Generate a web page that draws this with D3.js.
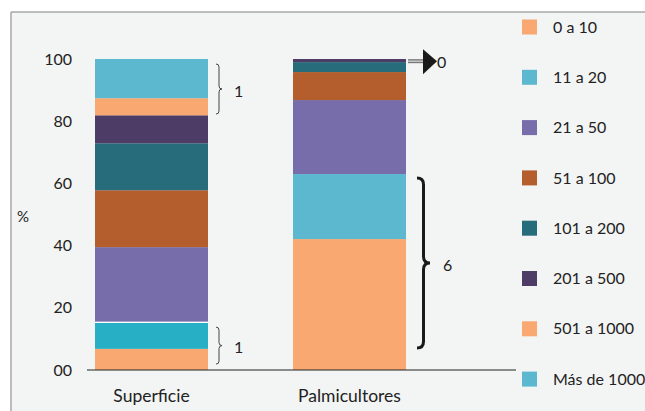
<!DOCTYPE html>
<html>
<head>
<meta charset="utf-8">
<script src="https://cdn.jsdelivr.net/npm/d3@7"></script>
<style>
  body { margin: 0; background: #fff; }
  svg { display: block; font-family: Lato, "Open Sans", sans-serif; }
</style>
</head>
<body>
<div class="chart"></div>
<script>
var categories = ["Superficie", "Palmicultores"];
var seriesNames = ["0 a 10", "11 a 20", "21 a 50", "51 a 100", "101 a 200", "201 a 500", "501 a 1000", "Más de 1000"];
var seriesColors = ["#F8A870", "#5BB8CF", "#776DAA", "#B45D2D", "#276C7B", "#4D3D66", "#F8A870", "#5BB8CF"];
// percent per size class, one array per category
var superficie = [6.8, 8.7, 24.0, 18.3, 15.1, 9.0, 5.5, 12.6];
var palmicultores = [42.1, 20.9, 23.8, 9.0, 3.2, 1.0, 0, 0];
var tickValues = [0, 20, 40, 60, 80, 100];
var tickLabels = ["00", "20", "40", "60", "80", "100"];
// annotations: braces in value units
var braces = [
  {cat: "Superficie", from: 82.3, to: 98.4, label: "1", big: false},
  {cat: "Superficie", from: 1.9, to: 13.8, label: "1", big: false},
  {cat: "Palmicultores", from: 7.1, to: 61.7, label: "6", big: true}
];

var width = 645, height = 411;

var svg = d3.select(".chart")
    .append("svg")
    .attr("width", width)
    .attr("height", height);

// panel background with top and left border
svg.append("rect")
    .attr("x", 11).attr("y", 12)
    .attr("width", width - 11).attr("height", height - 12)
    .attr("fill", "#F3F4F4");
svg.append("line").attr("x1", 11).attr("x2", width).attr("y1", 12).attr("y2", 12)
    .attr("stroke", "#A8A8A8").attr("stroke-width", 1.5);
svg.append("line").attr("x1", 11).attr("x2", 11).attr("y1", 12).attr("y2", height)
    .attr("stroke", "#A8A8A8").attr("stroke-width", 1.5);

var x = d3.scalePoint().domain(categories).range([151.5, 349.5]);
var y = d3.scaleLinear().domain([0, 100]).range([370, 59]);
var barW = 113;

var table = categories.map(function(c, i) {
  var vals = i == 0 ? superficie : palmicultores;
  var row = {cat: c};
  seriesNames.forEach(function(s, j) { row[s] = vals[j]; });
  return row;
});

var stacked = d3.stack().keys(seriesNames)(table);

stacked.forEach(function(layer, j) {
  svg.append("g").selectAll("rect")
    .data(layer)
    .join("rect")
    .attr("x", function(d) { return x(d.data.cat) - barW / 2; })
    .attr("width", barW)
    .attr("y", function(d) { return y(d[1]); })
    .attr("height", function(d) { return y(d[0]) - y(d[1]); })
    .attr("fill", function(d) {
      // the 11-20 block of Superficie is a brighter cyan in the original
      if (d.data.cat == "Superficie" && j == 1) return "#26AFC5";
      return seriesColors[j];
    });
});

// thin white gap above the bright cyan block
var sup1 = stacked[1][0];
svg.append("line")
    .attr("x1", x("Superficie") - barW / 2).attr("x2", x("Superficie") + barW / 2)
    .attr("y1", y(sup1[1]) + 0.5).attr("y2", y(sup1[1]) + 0.5)
    .attr("stroke", "#fff").attr("stroke-width", 1.2);

// baseline
svg.append("line")
    .attr("x1", 87).attr("x2", 516)
    .attr("y1", y(0)).attr("y2", y(0))
    .attr("stroke", "#222").attr("stroke-width", 1.2);

// y tick labels
svg.append("g").selectAll("text")
    .data(tickValues)
    .join("text")
    .attr("x", 72)
    .attr("y", function(d) { return y(d); })
    .attr("dy", "0.35em")
    .attr("text-anchor", "end")
    .attr("font-size", 16)
    .attr("fill", "#222")
    .text(function(d, i) { return tickLabels[i]; });

svg.append("text")
    .attr("x", 23).attr("y", 217).attr("dy", "0.35em")
    .attr("text-anchor", "middle")
    .attr("font-size", 15).attr("fill", "#222")
    .text("%");

// category labels
svg.append("g").selectAll("text")
    .data(categories)
    .join("text")
    .attr("x", function(d) { return x(d); })
    .attr("y", 396)
    .attr("dy", "0.35em")
    .attr("text-anchor", "middle")
    .attr("font-size", 17.5)
    .attr("fill", "#222")
    .text(function(d) { return d; });

// braces
function bracePath(x0, y0, y1, w) {
  var ym = (y0 + y1) / 2, q = w / 2;
  return "M" + x0 + "," + y0 +
    " Q" + (x0 + q) + "," + y0 + " " + (x0 + q) + "," + (y0 + q) +
    " L" + (x0 + q) + "," + (ym - q) +
    " Q" + (x0 + q) + "," + ym + " " + (x0 + w) + "," + ym +
    " Q" + (x0 + q) + "," + ym + " " + (x0 + q) + "," + (ym + q) +
    " L" + (x0 + q) + "," + (y1 - q) +
    " Q" + (x0 + q) + "," + y1 + " " + x0 + "," + y1;
}

braces.forEach(function(b) {
  var bx = x(b.cat) + barW / 2 + (b.big ? 11 : 8);
  var w = b.big ? 13 : 6;
  var y0 = y(b.to), y1 = y(b.from);
  svg.append("path")
    .attr("d", bracePath(bx, y0, y1, w))
    .attr("fill", "none")
    .attr("stroke", b.big ? "#1a1a1a" : "#444")
    .attr("stroke-width", b.big ? 3 : 1);
  svg.append("text")
    .attr("x", bx + w + (b.big ? 13 : 12))
    .attr("y", (y0 + y1) / 2 + 2)
    .attr("dy", "0.35em")
    .attr("font-size", 16)
    .attr("fill", "#222")
    .text(b.label);
});

// arrow pointing to the (near) zero top classes of Palmicultores
var ay = y(99.3);
var ax = x("Palmicultores") + barW / 2 + 2;
svg.append("line").attr("x1", ax).attr("x2", ax + 17).attr("y1", ay).attr("y2", ay)
    .attr("stroke", "#777").attr("stroke-width", 4);
svg.append("line").attr("x1", ax).attr("x2", ax + 17).attr("y1", ay).attr("y2", ay)
    .attr("stroke", "#ddd").attr("stroke-width", 1.2);
svg.append("path")
    .attr("d", "M" + (ax + 15) + "," + (ay - 12) + " L" + (ax + 29) + "," + ay + " L" + (ax + 15) + "," + (ay + 13) + "Z")
    .attr("fill", "#1a1a1a");
svg.append("text")
    .attr("x", ax + 29).attr("y", ay + 1).attr("dy", "0.35em")
    .attr("font-size", 16).attr("fill", "#222")
    .text("0");

// legend
var legend = svg.append("g").selectAll("g")
    .data(seriesNames)
    .join("g")
    .attr("transform", function(d, i) { return "translate(522," + (27 + i * 50.3) + ")"; });
legend.append("rect")
    .attr("x", 0).attr("y", -7.5)
    .attr("width", 15).attr("height", 15)
    .attr("fill", function(d, i) { return seriesColors[i]; });
legend.append("text")
    .attr("x", 31).attr("y", 0).attr("dy", "0.35em")
    .attr("font-size", 16).attr("fill", "#222")
    .text(function(d) { return d; });
</script>
</body>
</html>
